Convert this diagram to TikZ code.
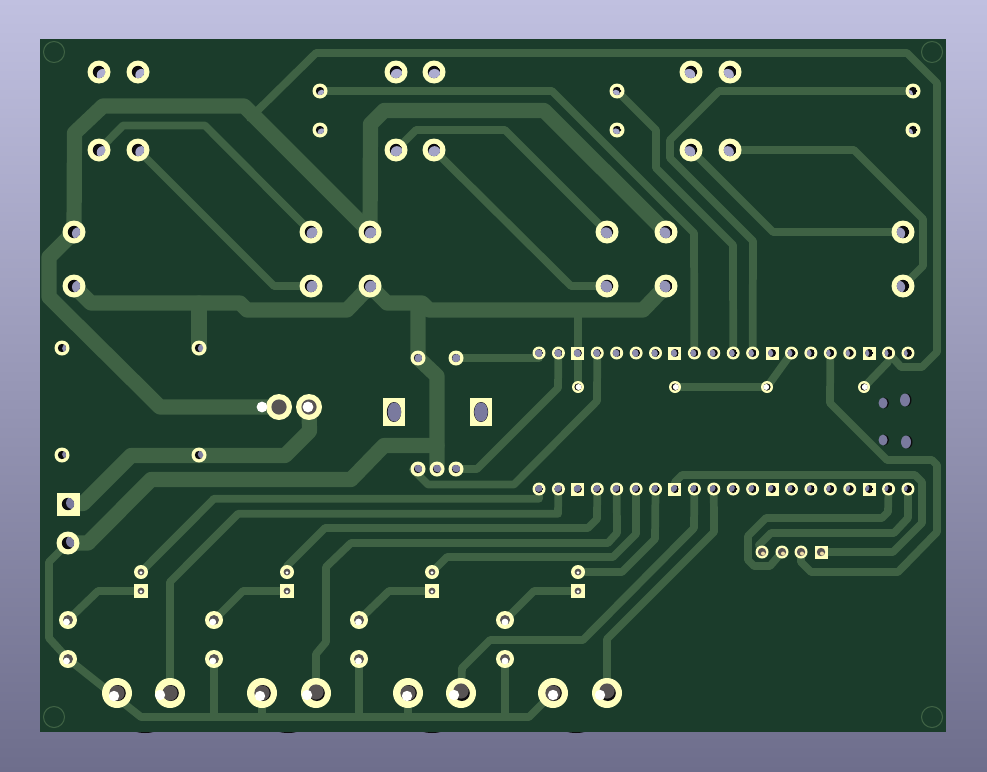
\documentclass[tikz,border=0pt]{standalone}
\usepackage{tikz}
\usetikzlibrary{backgrounds}
\definecolor{boardGreen}{RGB}{27,60,43}
\definecolor{trackGreen}{RGB}{63,98,68}
\definecolor{padYellow}{RGB}{255,255,190}
\definecolor{holeTop}{RGB}{176,176,210}
\definecolor{holeBottom}{RGB}{122,122,158}
\definecolor{holeDark}{RGB}{12,12,14}
\definecolor{pinGray}{RGB}{88,84,84}
\definecolor{pinBeige}{RGB}{235,215,165}
\definecolor{skyTop}{RGB}{192,192,224}
\definecolor{skyBottom}{RGB}{110,110,140}
\tikzset{
  padround/.style={circle, fill=padYellow, inner sep=0pt, minimum size=#1*0.75pt},
  padsquare/.style={rectangle, fill=padYellow, inner sep=0pt, minimum size=#1*0.75pt},
  padoval/.style={rectangle, fill=padYellow, inner sep=0pt, minimum width=22*0.75pt, minimum height=28*0.75pt},
  track/.style={draw=trackGreen, line width=5.8pt, line cap=round, line join=round},
  bigtrack/.style={draw=trackGreen, line width=11.4pt, line cap=round, line join=round}
}
% see-through hole, shifted by the view angle
\newcommand{\padhole}[3]{%
  \pgfmathsetmacro{\hx}{-0.01*(#1-493)}
  \pgfmathsetmacro{\hy}{-0.01*(#2-385)}
  \pgfmathsetmacro{\hmix}{max(0,min(100,(#2-50)/4.5))}
  \colorlet{holeFill}{holeBottom!\hmix!holeTop}
  \begin{scope}
    \clip (#1,#2) circle (#3);
    \fill[holeDark] (#1,#2) circle (#3);
    \fill[holeFill] (#1+\hx,#2+\hy) circle (#3);
  \end{scope}}
% hole with a pin showing: x, y, radius, dot radius, dot dx, dot dy, colour
\newcommand{\pinhole}[7]{%
  \fill[pinGray] (#1,#2) circle (#3);
  \fill[#7] (#1+#5,#2+#6) circle (#4);}

\begin{document}
\begin{tikzpicture}[x=0.75pt, y=-0.75pt]
    \useasboundingbox (0,0) rectangle (987,771);

    % Relay and terminal pads
    \foreach \name/\px/\py in {ka1/99/72, kb1/138/72, kc1/99/150, kd1/138/150,
        ka2/396/72, kb2/434/72, kc2/396/150, kd2/434/150,
        ka3/691/72, kb3/730/72, kc3/691/150, kd3/730/150,
        ta1/74/232, tb1/74/286, tc1/311/232, td1/311/286,
        ta2/370/232, tb2/370/286, tc2/607/232, td2/607/286,
        ta3/666/232, tb3/666/286, tc3/903/232, td3/903/286, ja2/68/543} {
        \node[padround=23] (\name) at (\px,\py) {};
        \padhole{\px}{\py}{6.2}
    }
    \node[padsquare=23] (ja1) at (68,504) {};
    \padhole{68}{504}{6.2}

    % Small pads
    \foreach \name/\px/\py in {sa1/320/91, sb1/320/130, sa2/617/91, sb2/617/130,
        sa3/913/91, sb3/913/130, ra/62/348, rb/199/348, rc/62/455, rd/199/455,
        qa/418/358, qb/456/358, qc/418/469, qd/437/469, qe/456/469} {
        \node[padround=15] (\name) at (\px,\py) {};
        \padhole{\px}{\py}{4.2}
    }

    % Two rows of the module
    \foreach \i in {1,...,20} {
        \pgfmathsetmacro{\px}{539+(\i-1)*19.42}
        \pgfmathtruncatemacro{\m}{mod(\i,5)}
        \ifnum\m=3
            \node[padsquare=13] (u\i) at (\px,353) {};
            \node[padsquare=13] (v\i) at (\px,489) {};
        \else
            \node[padround=13] (u\i) at (\px,353) {};
            \node[padround=13] (v\i) at (\px,489) {};
        \fi
        \padhole{\px}{353}{4}
        \padhole{\px}{489}{4}
    }

    % Test points
    \foreach \name/\px/\dx in {wa/578/0.6, wb/675/0.8, wc/767/-0.8, wd/864/0.8} {
        \node[padround=12] (\name) at (\px,387) {};
        \fill[holeDark] (\px,387) circle (3.6);
        \fill[white] (\px+\dx,387) circle (3);
    }

    % Slotted pads
    \node[padoval] (ma) at (394,412) {};
    \node[padoval] (mb) at (481,412) {};
    \fill[holeDark] (394,412) ellipse (7.2 and 10);
    \fill[holeBottom] (394.4,412) ellipse (6.8 and 9.6);
    \fill[holeDark] (481,412) ellipse (7.2 and 10);
    \fill[holeBottom] (481,412) ellipse (6.8 and 9.6);

    % Plain holes
    \foreach \px/\py/\rx/\ry in {883/403/4.5/5.5, 905/400/5/6.5, 883/440/4.5/5.5, 906/442/5/6.5} {
        \fill[holeDark] (\px+1.5,\py) ellipse [x radius=\rx, y radius=\ry];
        \fill[holeBottom] (\px,\py) ellipse [x radius=\rx, y radius=\ry];
    }

    % Four pin header
    \foreach \name/\px in {ha/762, hb/782, hc/801} {
        \node[padround=13] (\name) at (\px,552) {};
        \pinhole{\px}{552}{4.2}{2}{1}{1.5}{pinBeige}
    }
    \node[padsquare=13] (hd) at (821,552) {};
    \pinhole{821}{552}{4.2}{2}{1}{1.5}{pinBeige}

    % Lower row of inputs
    \foreach \n/\px in {1/141, 2/287, 3/432, 4/578} {
        \node[padround=14] (ia\n) at (\px,572) {};
        \node[padsquare=14] (ib\n) at (\px,591) {};
        \pinhole{\px}{572}{3.4}{1.6}{0}{0.8}{white}
        \pinhole{\px}{591}{3.4}{1.6}{0}{0.8}{white}
    }
    \foreach \n/\px/\dx in {1/68/-1.5, 2/214/-1.2, 3/359/-0.5, 4/505/0} {
        \node[padround=18] (la\n) at (\px,620) {};
        \node[padround=18] (lb\n) at (\px,659) {};
        \pinhole{\px}{620}{5}{3.4}{\dx}{2}{white}
        \pinhole{\px}{659}{5}{3.4}{\dx}{2}{white}
    }

    % Jacks
    \foreach \name/\px/\wx/\wy/\gy in {ba/117/-3/3/0, bb/170/-10/2/0, bc/262/-2/3/0, bd/316/-9/2/-1,
        be/408/-1/3/0, bf/461/-7/2/-2, bg/553/0/2/0, bh/607/-7/2/-2} {
        \node[padround=30] (\name) at (\px,693) {};
        \fill[holeDark] (\px+0.8,693) circle (8);
        \fill[pinGray] (\px,693+\gy) circle (7.6);
        \fill[white] (\px+\wx,693+\wy) circle (5.2);
    }
    \node[padround=26] (ca) at (279,407) {};
    \node[padround=26] (cb) at (309,407) {};
    \fill[pinGray] (279,407) circle (7.6);
    \fill[white] (262,407) circle (5.4);
    \fill[pinGray] (309,407) circle (7.6);
    \fill[white] (308,407) circle (5.4);

    \begin{scope}[on background layer]
        % Backdrop and board
        \shade[top color=skyTop, bottom color=skyBottom] (0,0) rectangle (987,771);
        \foreach \px in {145, 288, 432, 576} {
            \fill[holeDark] (\px,729) ellipse (13 and 4);
        }
        \fill[boardGreen] (40,38.5) rectangle (946,731.5);
        \foreach \px/\py in {54/52, 932/52, 54/717, 932/717} {
            \draw[trackGreen, line width=0.8pt] (\px,\py) circle (10.5);
        }

        % Wide tracks
        \draw[bigtrack] (ta1.center) -- (74.5,133) -- (103,106) -- (244,106) -- (ta2.center);
        \draw[bigtrack] (ta1.center) -- (49,257) -- (49,297) -- (160,407) -- (ca.center);
        \draw[bigtrack] (tb1.center) -- (91,303) -- (240,303) -- (247,310) -- (347,310) -- (tb2.center);
        \draw[bigtrack] (199,303) -- (rb.center);
        \draw[bigtrack] (ta2.center) -- (370.5,124) -- (384,110.5) -- (544,110.5) -- (ta3.center);
        \draw[bigtrack] (tb2.center) -- (387,303) -- (422,303) -- (429,310) -- (643,310) -- (tb3.center);
        \draw[bigtrack] (418,310) -- (qa.center) -- (437,376) -- (qd.center);
        \draw[bigtrack] (437,445.5) -- (384,445.5) -- (351,479.5) -- (151,479.5) -- (88,543) -- (ja2.center);
        \draw[bigtrack] (cb.center) -- (309.5,431) -- (285,455.5) -- (131,455.5) -- (83,503.5) -- (ja1.center);

        % Relay tracks
        \draw[track] (kc1.center) -- (123,125.5) -- (205,125.5) -- (tc1.center);
        \draw[track] (kd1.center) -- (274,286) -- (td1.center);
        \draw[track] (kc2.center) -- (416,130) -- (505,130) -- (tc2.center);
        \draw[track] (kd2.center) -- (571,286) -- (td2.center);
        \draw[track] (kc3.center) -- (773,232) -- (tc3.center);
        \draw[track] (kd3.center) -- (854,150) -- (923,219) -- (923,266) -- (td3.center);

        % Tracks up to the module
        \draw[track] (250,118) -- (316,53) -- (907,53) -- (937,83) -- (937,352) -- (922,367) -- (901,367) -- (u19.center);
        \draw[track] (wd.center) -- (888,362);
        \draw[track] (sa1.center) -- (552,91) -- (694,233) -- (u9.center);
        \draw[track] (sa2.center) -- (656,130) -- (656,168) -- (733,245) -- (u11.center);
        \draw[track] (sa3.center) -- (719,91) -- (670,140) -- (670,158) -- (753,241) -- (u12.center);
        \draw[track] (qb.center) -- (u1.center |- qb.center);
        \draw[track] (u2.center) -- (558,388) -- (477,469) -- (qe.center);
        \draw[track] (578,310) -- (wa.center);
        \draw[track] (u4.center) -- (597,401) -- (514,484.5) -- (428,484.5) -- (413,469.5);
        \draw[track] (wb.center) -- (wc.center) -- (u14.center);
        \draw[track] (u16.center) -- (830,403) -- (887,460) -- (932,460) -- (937,465) -- (937,532) -- (898,572) -- (811,572) -- (801,562) -- (hc.center);

        % Tracks down to the inputs
        \draw[track] (ia1.center) -- (214,498.7) -- (539,498.7) -- (v1.center);
        \draw[track] (bb.center) -- (170,582) -- (238,513.8) -- (558,513.8) -- (v2.center);
        \draw[track] (ia2.center) -- (287,566) -- (325,528) -- (588,528) -- (597,519) -- (v4.center);
        \draw[track] (bd.center) -- (316,654) -- (326,642) -- (326,567) -- (351,543) -- (608,543) -- (617,533) -- (v5.center);
        \draw[track] (ia3.center) -- (447,557) -- (613,557) -- (636,534) -- (v6.center);
        \draw[track] (ia4.center) -- (622,572) -- (655,539) -- (v7.center);
        \draw[track] (bf.center) -- (462,668) -- (490,640) -- (583,640) -- (694,528) -- (v9.center);
        \draw[track] (bh.center) -- (607,639) -- (714,532) -- (v10.center);

        % Header tracks
        \draw[track] (v8.center) -- (675,482) -- (682,475) -- (915,475) -- (922,482) -- (922,523) -- (893,552) -- (hd.center);
        \draw[track] (v19.center) -- (888,512) -- (882,518) -- (766,518) -- (748,536) -- (748,560) -- (754,566) -- (770,566) -- (hb.center);
        \draw[track] (v20.center) -- (908,518) -- (894,533) -- (771,533) -- (759,545) -- (ha.center);

        % Input pads to their jacks
        \foreach \n/\px in {1/98, 2/243, 3/389, 4/534} {
            \draw[track] (ib\n.center) -- (\px,591) -- (la\n.center);
        }
        \draw[track] (ja2.center) -- (49,562) -- (49,638) -- (lb1.center);
        \draw[track] (lb1.center) -- (141,717) -- (529,717) -- (bg.center);
        \foreach \name in {lb2, bc, lb3, be, lb4} {
            \draw[track] (\name.center) -- (\name.center |- 0,717);
        }
    \end{scope}
\end{tikzpicture}
\end{document}
